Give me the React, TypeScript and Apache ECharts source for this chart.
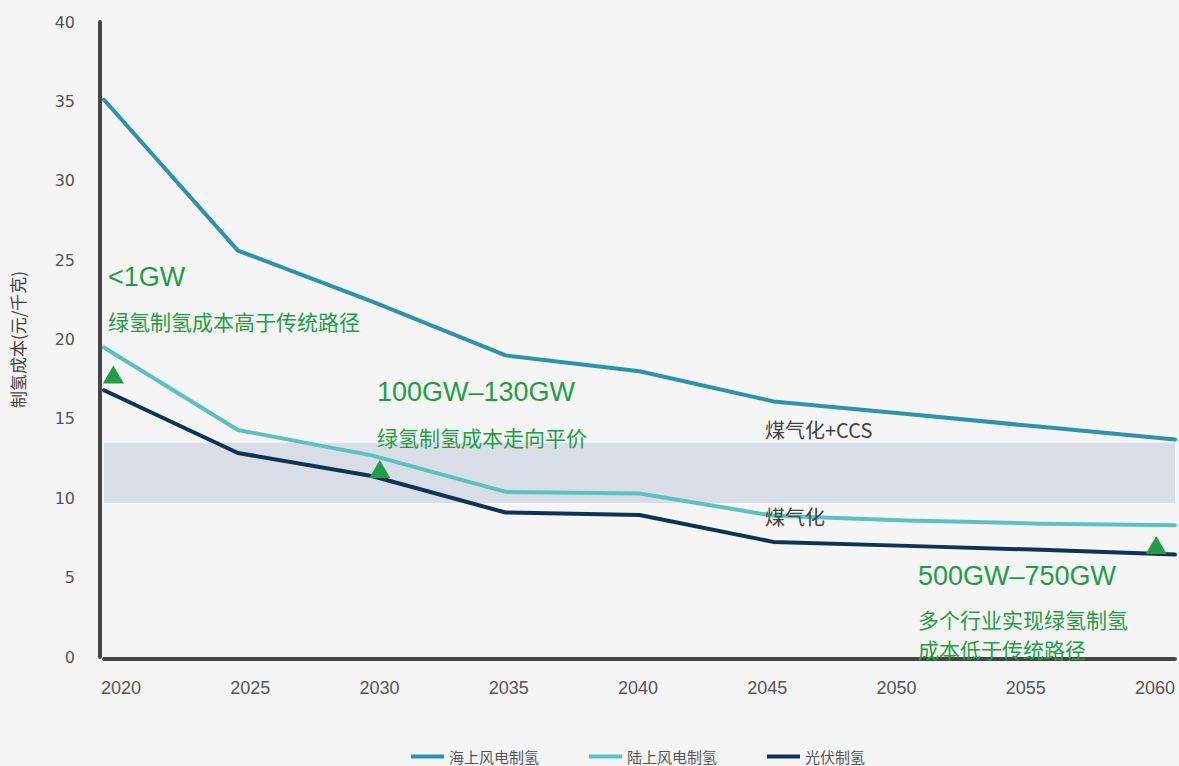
import React, { useEffect, useRef } from "react";
import * as echarts from "echarts";

const years = [2020, 2025, 2030, 2035, 2040, 2045, 2050, 2055, 2060];
const offshoreWind = [35.1, 25.6, 22.4, 19.0, 18.0, 16.1, 15.3, 14.5, 13.7];
const onshoreWind = [19.5, 14.3, 12.7, 10.4, 10.3, 8.9, 8.6, 8.4, 8.3];
const solarPV = [16.8, 12.85, 11.4, 9.1, 8.95, 7.25, 7.0, 6.75, 6.45];
const seriesNames = ["海上风电制氢", "陆上风电制氢", "光伏制氢"];
const coalBand = [9.7, 13.5];
const milestones = [
  [2020.35, 17.8],
  [2030.3, 11.85],
  [2059.3, 7.05],
];

const GREEN = "#1f9f45";
const FONT = "'Liberation Sans', 'Noto Sans CJK SC', sans-serif";
const NUMFONT = "'DejaVu Sans', 'Noto Sans CJK SC', sans-serif";
const CJK = "'Noto Sans CJK SC', sans-serif";

export default function App() {
  const ref = useRef<HTMLDivElement>(null);
  useEffect(() => {
    document.body.style.margin = "0";
    const chart = echarts.init(ref.current!, undefined, { renderer: "svg" });
    const pair = (arr: number[]) => years.map((y, i) => [y, arr[i]]);
    const text = (x: number, y: number, t: string, size: number, color: string, family = CJK) => ({
      type: "text",
      x,
      y,
      style: {
        text: t,
        fill: color,
        font: `${size}px ${family}`,
        verticalAlign: "middle",
        align: "left",
      },
      z: 100,
    });
    chart.setOption({
      animation: false,
      backgroundColor: "#f5f5f5",
      grid: [
        { left: 104, right: 4, top: 22, bottom: 109 },
        { left: 121, right: 24, top: 22, bottom: 109 },
      ],
      xAxis: [
        {
          type: "value",
          gridIndex: 0,
          min: 2020,
          max: 2060,
          interval: 5,
          axisLine: { show: true, onZero: false, lineStyle: { color: "#454545", width: 4 } },
          offset: 2,
          axisTick: { show: false },
          axisLabel: { show: false },
          splitLine: { show: false },
        },
        {
          type: "value",
          gridIndex: 1,
          min: 2020,
          max: 2060,
          interval: 5,
          axisLine: { show: false },
          axisTick: { show: false },
          splitLine: { show: false },
          axisLabel: {
            color: "#555",
            fontSize: 18,
            fontFamily: FONT,
            margin: 22,
            formatter: (v: number) => String(v),
          },
        },
      ],
      yAxis: [
        {
          type: "value",
          gridIndex: 0,
          min: 0,
          max: 40,
          interval: 5,
          offset: 4,
          axisLine: { show: true, lineStyle: { color: "#454545", width: 4 } },
          axisTick: { show: false },
          splitLine: { show: false },
          axisLabel: { color: "#555", fontSize: 16, fontFamily: NUMFONT, margin: 25 },
          name: "制氢成本(元/千克)",
          nameLocation: "middle",
          nameGap: 74,
          nameTextStyle: { color: "#444", fontSize: 17, fontFamily: CJK },
        },
        {
          type: "value",
          gridIndex: 1,
          min: 0,
          max: 40,
          show: false,
        },
      ],
      legend: {
        data: seriesNames,
        left: 406,
        top: 744,
        icon: "rect",
        itemWidth: 33,
        itemHeight: 4,
        itemGap: 50,
        textStyle: { color: "#555", fontSize: 15, fontFamily: CJK },
      },
      series: [
        {
          type: "line",
          name: "band",
          data: [],
          z: 1,
          markArea: {
            silent: true,
            itemStyle: { color: "#d9dde7" },
            data: [[{ xAxis: 2020, yAxis: coalBand[0] }, { xAxis: 2060, yAxis: coalBand[1] }]],
          },
        },
        {
          type: "line",
          name: seriesNames[0],
          data: pair(offshoreWind),
          showSymbol: false,
          color: "#2b93ae",
          lineStyle: { width: 4, cap: "round", join: "round" },
          z: 3,
        },
        {
          type: "line",
          name: seriesNames[1],
          data: pair(onshoreWind),
          showSymbol: false,
          color: "#5cc1c1",
          lineStyle: { width: 4, cap: "round", join: "round" },
          z: 3,
        },
        {
          type: "line",
          name: seriesNames[2],
          data: pair(solarPV),
          showSymbol: false,
          color: "#0c3457",
          lineStyle: { width: 4, cap: "round", join: "round" },
          z: 3,
        },
        {
          type: "scatter",
          name: "milestones",
          data: milestones,
          symbol: "triangle",
          symbolSize: [21, 18],
          itemStyle: { color: GREEN, opacity: 1 },
          z: 5,
        },
      ],
      graphic: [
        text(108, 277, "<1GW", 27, GREEN, FONT),
        text(108, 321, "绿氢制氢成本高于传统路径", 21, GREEN),
        text(377, 392, "100GW–130GW", 27, GREEN, FONT),
        text(377, 437, "绿氢制氢成本走向平价", 21, GREEN),
        text(918, 576, "500GW–750GW", 27, GREEN, FONT),
        text(918, 619, "多个行业实现绿氢制氢", 21, GREEN),
        text(918, 649, "成本低于传统路径", 21, GREEN),
        text(765, 429, "煤气化+CCS", 20, "#444", CJK),
        text(765, 516, "煤气化", 20, "#444", CJK),
      ],
    });
    return () => chart.dispose();
  }, []);
  return (
    <div
      ref={ref}
      style={{ position: "fixed", left: 0, top: 0, width: 1179, height: 766 }}
    />
  );
}
